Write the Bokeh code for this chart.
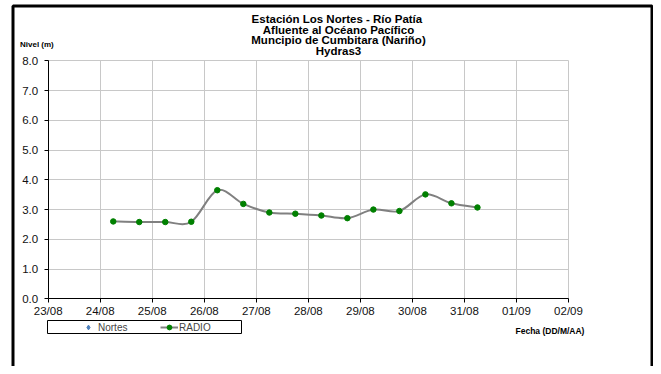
import numpy as np
import pandas as pd
from bokeh.plotting import figure
from bokeh.models import (Range1d, DaysTicker, DatetimeTickFormatter, SingleIntervalTicker,
                          PrintfTickFormatter, Label, BoxAnnotation, Legend, LegendItem, Grid)
from bokeh.embed import file_html
from bokeh.resources import INLINE

# ---------------- data ----------------
title_lines = ["Estación Los Nortes  - Río Patía",
               "Afluente al Océano Pacífico",
               "Muncipio de Cumbitara (Nariño)",
               "Hydras3"]
y_label = "Nivel (m)"
x_label = "Fecha (DD/M/AA)"
series_names = ["Nortes", "RADIO"]
x_start = "2011-08-23 00:00"
x_end = "2011-09-02 00:00"
y_start, y_end = 0, 8

times = ["2011-08-24 06:00", "2011-08-24 18:00", "2011-08-25 06:00", "2011-08-25 18:00",
         "2011-08-26 06:00", "2011-08-26 18:00", "2011-08-27 06:00", "2011-08-27 18:00",
         "2011-08-28 06:00", "2011-08-28 18:00", "2011-08-29 06:00", "2011-08-29 18:00",
         "2011-08-30 06:00", "2011-08-30 18:00", "2011-08-31 06:00"]
levels = [2.60, 2.58, 2.58, 2.59, 3.65, 3.19, 2.90, 2.86, 2.80, 2.71, 3.00, 2.95, 3.51, 3.21, 3.07]
# the "Nortes" series has no readings in this period
nortes_times = [x_start]
nortes_levels = [float("nan")]

# ---------------- layout (pixels) ----------------
W, H = 653, 366
PL, PR, PT, PB = 47.7, 568.0, 60.3, 298.3   # plot-area edges on the canvas

def ms(s):
    return float(pd.Timestamp(s).value // 10**6)

xs0, xs1 = ms(x_start), ms(x_end)
kx = (xs1 - xs0) / (PR - PL)
ky = (y_end - y_start) / (PB - PT)
xr = Range1d(xs0 - PL * kx, xs1 + (W - PR) * kx)
yr = Range1d(y_start - (H - PB) * ky, y_end + PT * ky)

# ---------------- smooth line (Bezier control points from the data) ----------------
xs = np.array([ms(t) for t in times])
ys = np.array(levels, dtype=float)
n = len(xs)
x0, y0, x1, y1, cx0, cy0, cx1, cy1 = ([] for _ in range(8))
for i in range(n - 1):
    a = i - 1 if i > 0 else i
    d = i + 2 if i + 2 < n else i + 1
    x0.append(xs[i]); y0.append(ys[i]); x1.append(xs[i + 1]); y1.append(ys[i + 1])
    cx0.append(xs[i] + (xs[i + 1] - xs[a]) / 6.0)
    cy0.append(ys[i] + (ys[i + 1] - ys[a]) / 6.0)
    cx1.append(xs[i + 1] - (xs[d] - xs[i]) / 6.0)
    cy1.append(ys[i + 1] - (ys[d] - ys[i]) / 6.0)

FONT = "Liberation Sans"
GRID = "#c8c8c8"

p = figure(width=W, height=H, x_axis_type="datetime", x_range=xr, y_range=yr,
           output_backend="svg", toolbar_location=None,
           min_border_left=0, min_border_right=0, min_border_top=0, min_border_bottom=0)
p.background_fill_color = "white"
p.border_fill_color = "white"
p.outline_line_color = None

p.xaxis.ticker = DaysTicker(days=list(range(1, 32)))
p.xaxis.formatter = DatetimeTickFormatter(days="%d/%m", months="%d/%m", years="%d/%m")
p.yaxis.ticker = SingleIntervalTicker(interval=1)
p.yaxis.formatter = PrintfTickFormatter(format="%.1f")
p.xaxis.fixed_location = float(y_start)
p.yaxis.fixed_location = xs0
p.xaxis.bounds = (xs0, xs1)
p.yaxis.bounds = (y_start, y_end)

for ax in (p.xaxis, p.yaxis):
    ax.axis_line_color = "black"
    ax.axis_line_width = 1
    ax.major_tick_line_color = "black"
    ax.major_tick_out = 4
    ax.major_tick_in = 0
    ax.minor_tick_line_color = None
    ax.major_label_text_font = FONT
    ax.major_label_text_font_size = "11.5px"
    ax.major_label_text_color = "#111111"
p.yaxis.major_label_standoff = 6
p.xaxis.major_label_standoff = 2

p.xgrid.grid_line_color = GRID
p.ygrid.grid_line_color = GRID
p.xgrid.bounds = (xs0, xs1)
p.ygrid.bounds = (y_start, y_end)
if "cross_bounds" in Grid.properties():
    p.xgrid.cross_bounds = (y_start, y_end)
    p.ygrid.cross_bounds = (xs0, xs1)
p.xgrid.level = "underlay"
p.ygrid.level = "underlay"

p.bezier(x0=x0, y0=y0, x1=x1, y1=y1, cx0=cx0, cy0=cy0, cx1=cx1, cy1=cy1,
         line_color="#808080", line_width=2)
markers = p.scatter(xs, ys, size=5.5, color="#008000")
legend_line = p.line(x=[xs[0]], y=[float("nan")], line_color="#808080", line_width=2)
nortes = p.scatter(x=[ms(t) for t in nortes_times], y=nortes_levels,
                   marker="diamond", size=8, color="#4F81BD")

def sy(y_page):
    return H - y_page

legend = Legend(items=[LegendItem(label=series_names[0], renderers=[nortes]),
                       LegendItem(label=series_names[1], renderers=[legend_line, markers])],
                location=(79, sy(333)), orientation="horizontal",
                padding=0, margin=0, spacing=0,
                glyph_width=18, glyph_height=12, label_height=12, label_width=62,
                label_standoff=1,
                label_text_font=FONT, label_text_font_size="10px",
                border_line_alpha=0, background_fill_alpha=0)
p.add_layout(legend)

# legend frame
p.add_layout(BoxAnnotation(left=47, right=241, top=sy(320), bottom=sy(333),
                           left_units="screen", right_units="screen",
                           top_units="screen", bottom_units="screen",
                           fill_alpha=0, line_color="black", line_alpha=1, line_width=1))
# outer chart frame
p.add_layout(BoxAnnotation(left=12.5, right=651.5, top=sy(5.5), bottom=sy(380),
                           left_units="screen", right_units="screen",
                           top_units="screen", bottom_units="screen",
                           fill_alpha=0, line_color="black", line_alpha=1, line_width=3))

title_y = [18.5, 29, 39.5, 50]
for txt, ty in zip(title_lines, title_y):
    p.add_layout(Label(x=338, y=sy(ty), x_units="screen", y_units="screen", text=txt,
                       text_align="center", text_baseline="middle",
                       text_font=FONT, text_font_size="11.5px", text_font_style="bold",
                       text_color="black"))

p.add_layout(Label(x=19.5, y=sy(43.5), x_units="screen", y_units="screen", text=y_label,
                   text_align="left", text_baseline="middle",
                   text_font=FONT, text_font_size="8px", text_font_style="bold",
                   text_color="black"))
p.add_layout(Label(x=515, y=sy(330), x_units="screen", y_units="screen", text=x_label,
                   text_align="left", text_baseline="middle",
                   text_font=FONT, text_font_size="8.5px", text_font_style="bold",
                   text_color="black"))

open("out.html", "w").write(file_html(p, INLINE))
